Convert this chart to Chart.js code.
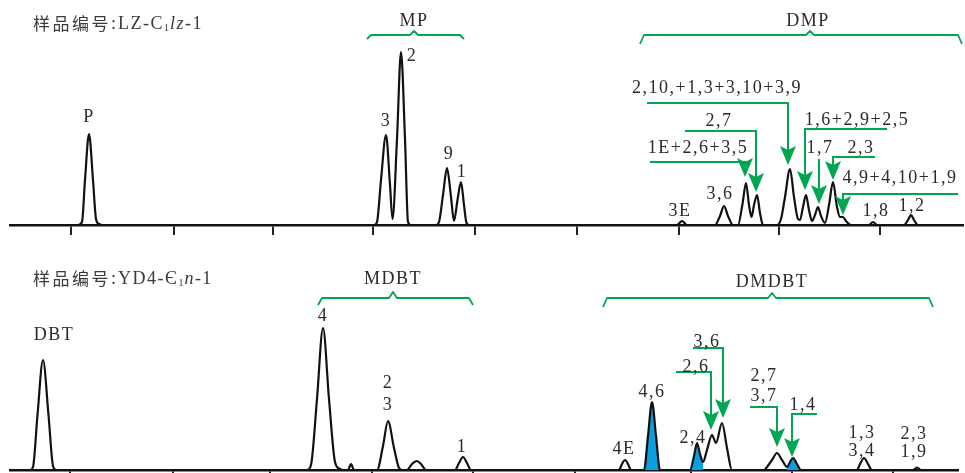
<!DOCTYPE html>
<html>
<head>
<meta charset="utf-8">
<script src="https://cdn.jsdelivr.net/npm/chart.js@4.4.1/dist/chart.umd.min.js"></script>
<style>
  html, body { margin: 0; padding: 0; background: #fff; overflow: hidden; width: 965px; height: 473px; }
  canvas { position: absolute; left: 0; }
  #top { top: 0; }
  #bottom { top: 240px; }
</style>
</head>
<body>
<canvas id="top" width="965" height="240"></canvas>
<canvas id="bottom" width="965" height="245"></canvas>
<script>
// retention axis in scan units, intensity in arbitrary units
const topTicks = [71, 174, 273, 373, 475, 577, 679, 779, 880];
const bottomTicks = [70, 173, 270, 372, 473, 575, 691, 792, 893];

// LZ-C1lz-1 : phenanthrene + methyl/dimethyl phenanthrenes
const topSignal = [
    [10, 0],
    [78, 0], [82, 3], [85, 45], [89, 91], [93, 45], [96, 6], [99, 1], [102, 0],
    [374, 0], [377, 3], [381, 45], [386, 90], [390, 40], [392.5, 6], [397, 86], [401, 173], [405, 86], [408, 3], [411, 0],
    [436, 0], [439, 3], [443, 30], [447, 57], [451, 28], [454, 4], [457.5, 25], [461, 43], [464, 20], [466.5, 2], [469, 0],
    [677, 0], [682, 4], [687, 0],
    [715, 0], [720, 9], [724, 19], [728, 9], [733, 0],
    [738, 0], [742.5, 21], [746, 42], [749, 20], [751.5, 8], [754, 20], [757, 30], [760, 12], [763, 0],
    [777, 0], [781, 6], [785, 28], [790, 56], [794, 28], [798, 6], [800, 5], [803, 18], [806, 30], [809, 15], [812, 4],
    [815, 10], [818, 18], [821, 9], [825, 2], [829, 20], [833, 43], [837, 18], [840, 8], [843, 8], [846, 4], [851, 0],
    [869, 0], [873, 3], [877, 0],
    [904, 0], [908, 5], [911, 10], [914, 5], [918, 0],
    [963, 0]
];

// YD4-Є1n-1 : dibenzothiophene + methyl/dimethyl dibenzothiophenes
const bottomSignal = [
    [10, 0],
    [30, 0], [33, 3], [37.5, 55], [43, 110], [48.5, 55], [53, 4], [56, 0],
    [307, 0], [311, 5], [317, 71], [323, 142], [329, 71], [335, 8], [340, 1], [343, 0],
    [348, 0], [351, 6], [354, 0],
    [377, 0], [383, 24], [388, 49], [394, 22], [399, 2], [402, 0],
    [407, 0], [412, 6], [417, 9], [421, 6], [426, 0],
    [455, 0], [459, 7], [463, 13], [467, 7], [471, 0],
    [619, 0], [622, 6], [625, 10], [628, 6], [631, 0],
    [644, 0], [648, 34], [652, 68], [656, 34], [660, 0],
    [690, 0], [694, 14], [697, 27], [700, 16], [703, 8], [707, 20], [712, 35], [716, 27], [722, 47], [727, 22], [732, 0],
    [764, 0], [767, 3], [772, 10], [777, 17], [782, 10], [787, 3], [790, 8], [793, 12], [797, 6], [801, 0],
    [857, 0], [860, 6], [864, 12], [868, 6], [872, 0],
    [913, 0], [917, 2.5], [921, 0],
    [958, 0]
];

// shaded peaks (4,6-, 2,4- and 1,4-DMDBT)
const blueRanges = [[644, 660], [690, 703], [787, 801]];

const GREEN = '#00a651';
const BLUE = '#0a9fe0';
const INK = '#2b2b2b';
const SERIF = '"Liberation Serif", "DejaVu Serif", serif';
const CJK = '"Noto Sans CJK SC", sans-serif';

const topNotes = {
    title: [
        { t: '样品编号', font: '17px ' + CJK, ls: 2.5 },
        { t: ':', font: '18px ' + SERIF, ls: 2 },
        { t: 'LZ-C', font: '18px ' + SERIF, ls: 1.5 },
        { t: '1', font: '10px ' + SERIF, dy: 4, ls: 1 },
        { t: 'lz', font: 'italic 18px ' + SERIF, ls: 1.5 },
        { t: '-1', font: '18px ' + SERIF, ls: 1.5 }
    ],
    titleAt: [33, 201],
    labels: [
        ['P', 89, 108], ['MP', 414, 204], ['3', 386, 104], ['2', 412, 169], ['9', 449, 71], ['1', 462, 53],
        ['DMP', 808, 204], ['2,10,+1,3+3,10+3,9', 717, 137], ['2,7', 719, 104], ['1E+2,6+3,5', 698, 77],
        ['1,6+2,9+2,5', 857, 105], ['1,7', 820, 77], ['2,3', 861, 77], ['4,9+4,10+1,9', 900, 47],
        ['3,6', 720, 31], ['3E', 680, 14], ['1,8', 876, 14], ['1,2', 912, 19]
    ],
    brackets: [
        { x1: 367, xm: 414, x2: 464, y: 190, yEnd: 186, yPeak: 194 },
        { x1: 640, xm: 810, x2: 962, y: 190, yEnd: 181, yPeak: 194 }
    ],
    arrows: [
        [[647, 122], [788, 122], [788, 60]],
        [[685, 94], [756, 94], [756, 33]],
        [[650, 63], [745, 63], [745, 48]],
        [[887, 96], [805, 96], [805, 35]],
        [[819, 66], [819, 21]],
        [[875, 68], [833, 68], [833, 45]],
        [[958, 31], [843, 31], [843, 10]]
    ]
};

const bottomNotes = {
    title: [
        { t: '样品编号', font: '17px ' + CJK, ls: 2.5 },
        { t: ':', font: '18px ' + SERIF, ls: 2 },
        { t: 'YD4-Є', font: '18px ' + SERIF, ls: 1.5 },
        { t: '1', font: '10px ' + SERIF, dy: 4, ls: 1 },
        { t: 'n', font: 'italic 18px ' + SERIF, ls: 1.5 },
        { t: '-1', font: '18px ' + SERIF, ls: 1.5 }
    ],
    titleAt: [33, 191],
    labels: [
        ['DBT', 54, 135], ['MDBT', 393, 191], ['4', 323, 154], ['2', 388, 87], ['3', 388, 65], ['1', 462, 23],
        ['DMDBT', 772, 188], ['4E', 624, 21], ['4,6', 652, 78], ['2,4', 693, 32], ['2,6', 696, 103],
        ['3,6', 707, 128], ['2,7', 764, 94], ['3,7', 764, 74], ['1,4', 803, 65], ['1,3', 862, 37],
        ['3,4', 862, 19], ['2,3', 914, 36], ['1,9', 914, 18]
    ],
    brackets: [
        { x1: 318, xm: 393, x2: 473, y: 172, yEnd: 165, yPeak: 178 },
        { x1: 603, xm: 772, x2: 933, y: 172, yEnd: 163, yPeak: 177 }
    ],
    arrows: [
        [[676, 98], [711, 98], [711, 40]],
        [[693, 122], [723, 122], [723, 52]],
        [[750, 63], [777, 63], [777, 23]],
        [[817, 56], [792, 56], [792, 13]]
    ]
};

function drawNotes(chart, notes) {
    const { ctx, scales: { x, y } } = chart;
    const px = v => x.getPixelForValue(v);
    const py = v => y.getPixelForValue(v);
    ctx.save();

    ctx.strokeStyle = GREEN;
    ctx.fillStyle = GREEN;
    ctx.lineWidth = 1.8;
    ctx.lineJoin = 'round';
    notes.brackets.forEach(b => {
        const pts = [[b.x1, b.yEnd], [b.x1 + 4, b.y], [b.xm - 4, b.y], [b.xm, b.yPeak],
            [b.xm + 4, b.y], [b.x2 - 4, b.y], [b.x2, b.yEnd]];
        ctx.beginPath();
        pts.forEach((p, i) => i ? ctx.lineTo(px(p[0]), py(p[1])) : ctx.moveTo(px(p[0]), py(p[1])));
        ctx.stroke();
    });

    ctx.lineWidth = 2;
    ctx.lineJoin = 'miter';
    notes.arrows.forEach(path => {
        const tip = path[path.length - 1];
        const tx = px(tip[0]), ty = py(tip[1]);
        ctx.beginPath();
        path.forEach((p, i) => {
            const last = i === path.length - 1;
            const yy = last ? ty - 14 : py(p[1]);
            i ? ctx.lineTo(px(p[0]), yy) : ctx.moveTo(px(p[0]), yy);
        });
        ctx.stroke();
        ctx.beginPath();
        ctx.moveTo(tx, ty);
        ctx.lineTo(tx - 8, ty - 19);
        ctx.lineTo(tx, ty - 15);
        ctx.lineTo(tx + 8, ty - 19);
        ctx.closePath();
        ctx.fill();
    });

    ctx.fillStyle = INK;
    ctx.textBaseline = 'middle';
    ctx.textAlign = 'center';
    ctx.font = '18px ' + SERIF;
    ctx.letterSpacing = '1.5px';
    notes.labels.forEach(([t, lx, ly]) => ctx.fillText(t, px(lx), py(ly)));

    ctx.textAlign = 'left';
    let tx = px(notes.titleAt[0]);
    const ty = py(notes.titleAt[1]);
    ctx.fillStyle = '#3a3a3a';
    notes.title.forEach(r => {
        ctx.font = r.font;
        ctx.letterSpacing = (r.ls || 0) + 'px';
        ctx.fillText(r.t, tx, ty + (r.dy || 0));
        tx += ctx.measureText(r.t).width;
    });
    ctx.restore();
}

function makeChart(id, signal, ticks, xMax, yMax, notes, fills) {
    const datasets = [{
        data: signal,
        borderColor: '#111',
        borderWidth: 2.2,
        pointRadius: 0,
        cubicInterpolationMode: 'monotone',
        fill: false,
        order: 0
    }];
    fills.forEach(r => datasets.push({
        data: signal.filter(p => p[0] >= r[0] && p[0] <= r[1]),
        borderColor: 'rgba(0,0,0,0)',
        borderWidth: 0,
        backgroundColor: BLUE,
        fill: 'origin',
        pointRadius: 0,
        cubicInterpolationMode: 'monotone',
        order: 1
    }));

    return new Chart(document.getElementById(id), {
        type: 'line',
        data: { datasets },
        options: {
            responsive: false,
            animation: false,
            devicePixelRatio: 1,
            layout: { padding: { left: 10, right: 965 - xMax, top: 0, bottom: 0 } },
            plugins: { legend: { display: false }, tooltip: { enabled: false } },
            scales: {
                x: {
                    type: 'linear',
                    min: 10,
                    max: xMax,
                    afterBuildTicks: s => { s.ticks = ticks.map(v => ({ value: v })); },
                    afterFit: s => { s.height = 15; },
                    ticks: { display: false },
                    grid: { drawOnChartArea: false, drawTicks: true, tickLength: 10, color: '#222', lineWidth: 2 },
                    border: { display: true, color: '#111', width: 2.5 }
                },
                y: { display: false, min: 0, max: yMax }
            }
        },
        plugins: [{ id: 'notes', afterDraw: c => drawNotes(c, notes) }]
    });
}

makeChart('top', topSignal, topTicks, 963, 225, topNotes, []);
makeChart('bottom', bottomSignal, bottomTicks, 958, 230, bottomNotes, blueRanges);
</script>
</body>
</html>
